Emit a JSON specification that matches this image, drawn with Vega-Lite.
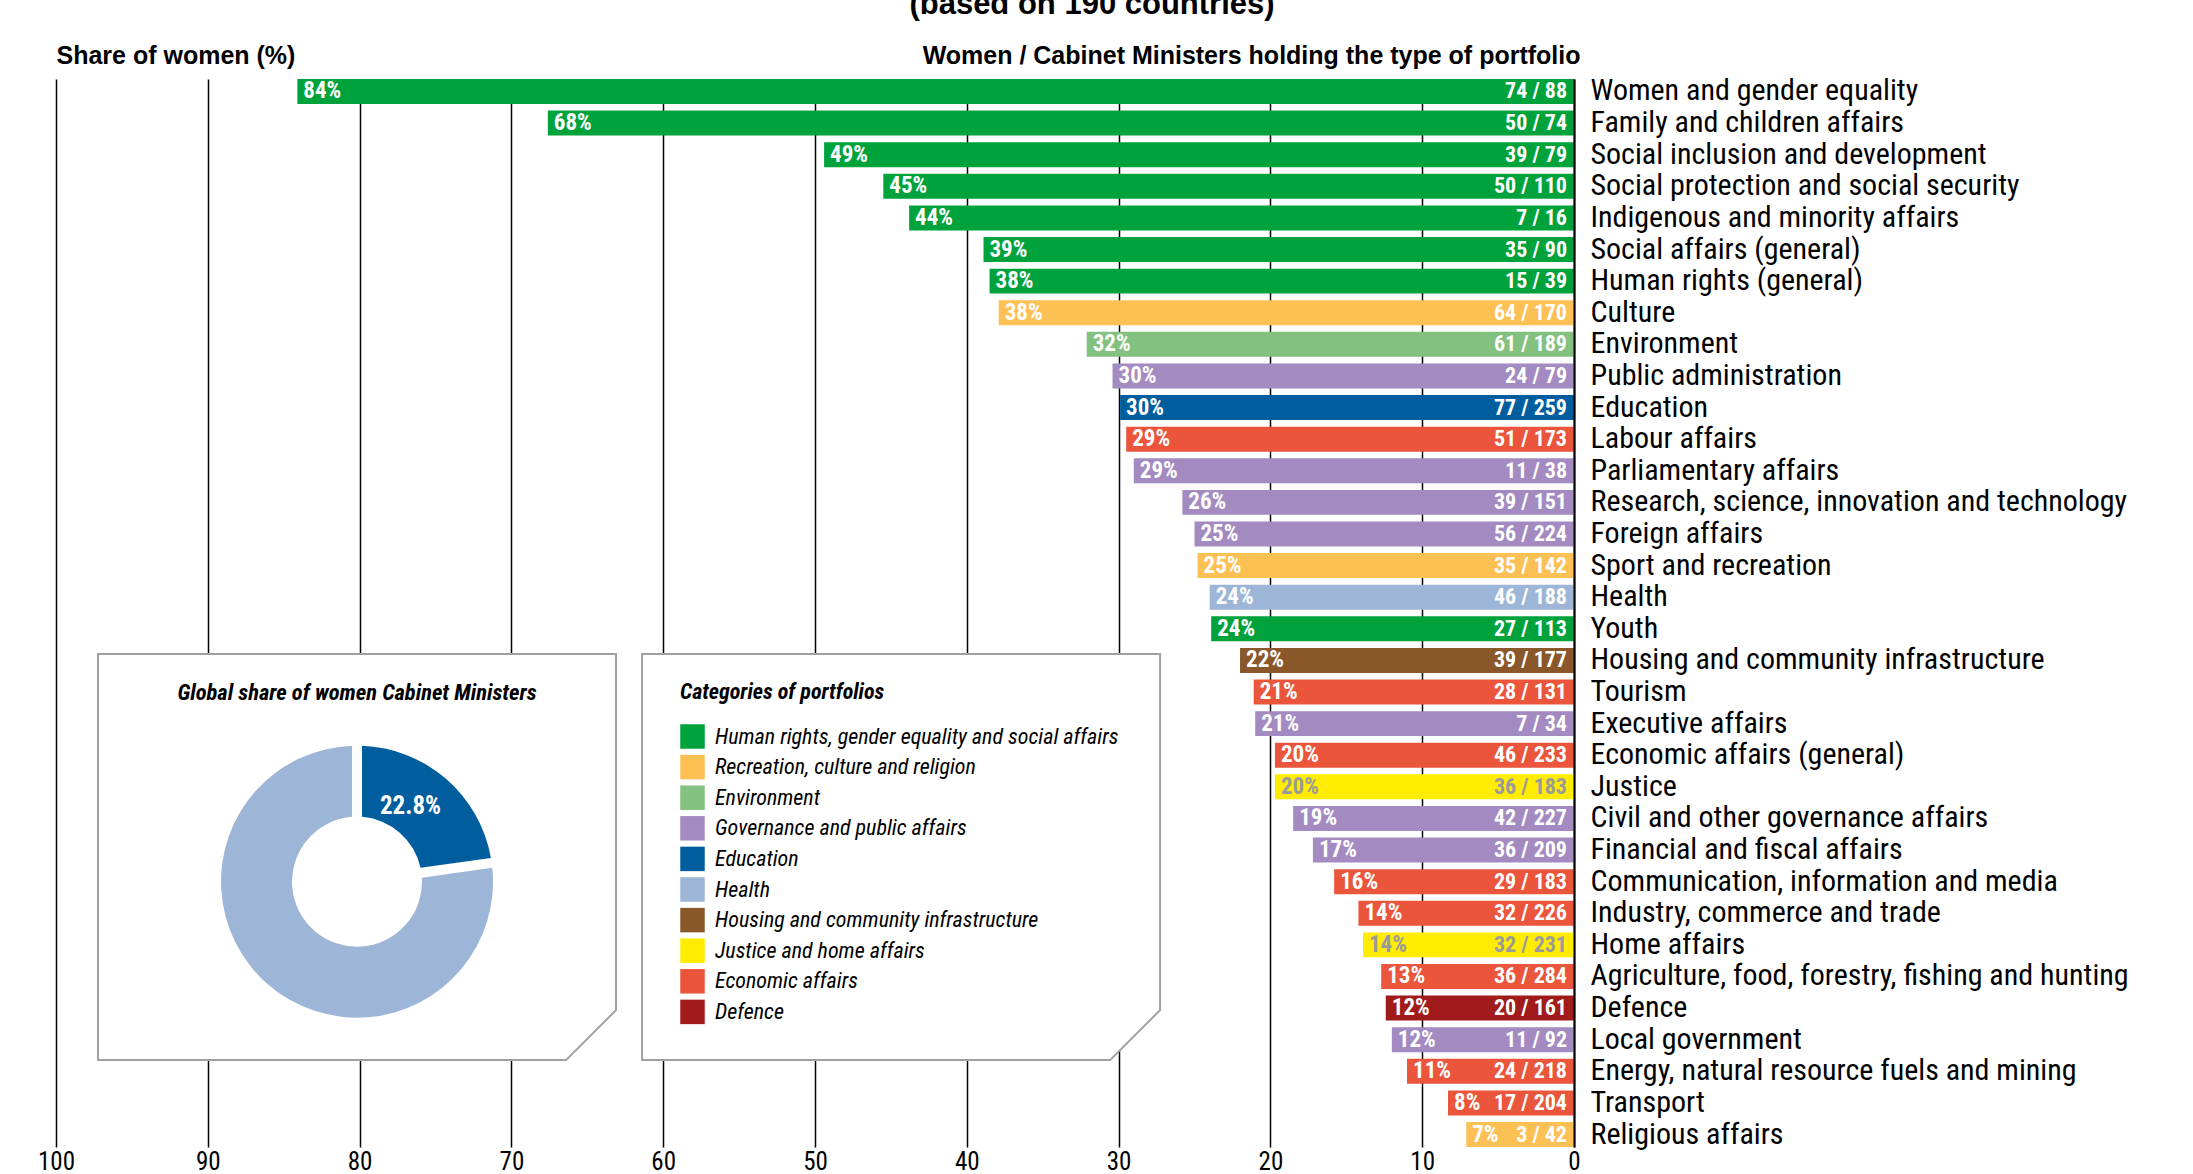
{
  "$schema": "https://vega.github.io/schema/vega-lite/v6.json",
  "autosize": "none",
  "width": 1518,
  "height": 1068,
  "padding": {"left": 56, "top": 79, "right": 619, "bottom": 27},
  "title": {
    "text": "(based on 190 countries)",
    "font": "Liberation Sans",
    "fontSize": 31,
    "fontWeight": "bold",
    "color": "black",
    "anchor": "middle",
    "frame": "group",
    "dx": 277,
    "dy": -22,
    "offset": 0
  },
  "datasets": {
    "portfolios": [
      {"portfolio": "Women and gender equality", "category": "Human rights, gender equality and social affairs", "share": 84.1, "pct": "84%", "ratio": "74 / 88"},
      {"portfolio": "Family and children affairs", "category": "Human rights, gender equality and social affairs", "share": 67.6, "pct": "68%", "ratio": "50 / 74"},
      {"portfolio": "Social inclusion and development", "category": "Human rights, gender equality and social affairs", "share": 49.4, "pct": "49%", "ratio": "39 / 79"},
      {"portfolio": "Social protection and social security", "category": "Human rights, gender equality and social affairs", "share": 45.5, "pct": "45%", "ratio": "50 / 110"},
      {"portfolio": "Indigenous and minority affairs", "category": "Human rights, gender equality and social affairs", "share": 43.8, "pct": "44%", "ratio": "7 / 16"},
      {"portfolio": "Social affairs (general)", "category": "Human rights, gender equality and social affairs", "share": 38.9, "pct": "39%", "ratio": "35 / 90"},
      {"portfolio": "Human rights (general)", "category": "Human rights, gender equality and social affairs", "share": 38.5, "pct": "38%", "ratio": "15 / 39"},
      {"portfolio": "Culture", "category": "Recreation, culture and religion", "share": 37.9, "pct": "38%", "ratio": "64 / 170"},
      {"portfolio": "Environment", "category": "Environment", "share": 32.1, "pct": "32%", "ratio": "61 / 189"},
      {"portfolio": "Public administration", "category": "Governance and public affairs", "share": 30.4, "pct": "30%", "ratio": "24 / 79"},
      {"portfolio": "Education", "category": "Education", "share": 29.9, "pct": "30%", "ratio": "77 / 259"},
      {"portfolio": "Labour affairs", "category": "Economic affairs", "share": 29.5, "pct": "29%", "ratio": "51 / 173"},
      {"portfolio": "Parliamentary affairs", "category": "Governance and public affairs", "share": 29.0, "pct": "29%", "ratio": "11 / 38"},
      {"portfolio": "Research, science, innovation and technology", "category": "Governance and public affairs", "share": 25.8, "pct": "26%", "ratio": "39 / 151"},
      {"portfolio": "Foreign affairs", "category": "Governance and public affairs", "share": 25.0, "pct": "25%", "ratio": "56 / 224"},
      {"portfolio": "Sport and recreation", "category": "Recreation, culture and religion", "share": 24.8, "pct": "25%", "ratio": "35 / 142"},
      {"portfolio": "Health", "category": "Health", "share": 24.0, "pct": "24%", "ratio": "46 / 188"},
      {"portfolio": "Youth", "category": "Human rights, gender equality and social affairs", "share": 23.9, "pct": "24%", "ratio": "27 / 113"},
      {"portfolio": "Housing and community infrastructure", "category": "Housing and community infrastructure", "share": 22.0, "pct": "22%", "ratio": "39 / 177"},
      {"portfolio": "Tourism", "category": "Economic affairs", "share": 21.1, "pct": "21%", "ratio": "28 / 131"},
      {"portfolio": "Executive affairs", "category": "Governance and public affairs", "share": 21.0, "pct": "21%", "ratio": "7 / 34"},
      {"portfolio": "Economic affairs (general)", "category": "Economic affairs", "share": 19.7, "pct": "20%", "ratio": "46 / 233"},
      {"portfolio": "Justice", "category": "Justice and home affairs", "share": 19.7, "pct": "20%", "ratio": "36 / 183"},
      {"portfolio": "Civil and other governance affairs", "category": "Governance and public affairs", "share": 18.5, "pct": "19%", "ratio": "42 / 227"},
      {"portfolio": "Financial and fiscal affairs", "category": "Governance and public affairs", "share": 17.2, "pct": "17%", "ratio": "36 / 209"},
      {"portfolio": "Communication, information and media", "category": "Economic affairs", "share": 15.8, "pct": "16%", "ratio": "29 / 183"},
      {"portfolio": "Industry, commerce and trade", "category": "Economic affairs", "share": 14.2, "pct": "14%", "ratio": "32 / 226"},
      {"portfolio": "Home affairs", "category": "Justice and home affairs", "share": 13.9, "pct": "14%", "ratio": "32 / 231"},
      {"portfolio": "Agriculture, food, forestry, fishing and hunting", "category": "Economic affairs", "share": 12.7, "pct": "13%", "ratio": "36 / 284"},
      {"portfolio": "Defence", "category": "Defence", "share": 12.4, "pct": "12%", "ratio": "20 / 161"},
      {"portfolio": "Local government", "category": "Governance and public affairs", "share": 12.0, "pct": "12%", "ratio": "11 / 92"},
      {"portfolio": "Energy, natural resource fuels and mining", "category": "Economic affairs", "share": 11.0, "pct": "11%", "ratio": "24 / 218"},
      {"portfolio": "Transport", "category": "Economic affairs", "share": 8.3, "pct": "8%", "ratio": "17 / 204"},
      {"portfolio": "Religious affairs", "category": "Recreation, culture and religion", "share": 7.1, "pct": "7%", "ratio": "3 / 42"}
    ],
    "donut": [
      {"group": "Women", "share": 22.8, "label": "22.8%"},
      {"group": "Men", "share": 77.2, "label": ""}
    ]
  },
  "data": {"name": "portfolios"},
  "layer": [
    {
      "mark": {"type": "bar"},
      "encoding": {
        "x": {
          "field": "share", "type": "quantitative",
          "scale": {"domain": [0, 100], "reverse": true, "nice": false, "zero": true},
          "axis": {
            "values": [0, 10, 20, 30, 40, 50, 60, 70, 80, 90, 100],
            "grid": true, "gridColor": "black", "gridWidth": 1.5, "gridOpacity": 1,
            "domain": false, "ticks": false,
            "labelFont": "Roboto Condensed, DejaVu Sans Condensed, Liberation Sans", "labelFontSize": 25, "labelColor": "black",
            "labelBaseline": "alphabetic", "labelPadding": 22, "labelFlush": false, "labelOverlap": false,
            "title": "Share of women (%)",
            "titleFont": "Liberation Sans", "titleFontSize": 25, "titleFontWeight": "bold", "titleColor": "black",
            "titleAngle": 0, "titleAlign": "left", "titleBaseline": "alphabetic",
            "titleX": 0, "titleY": -1084
          }
        },
        "y": {
          "field": "portfolio", "type": "nominal",
          "scale": {
            "domain": ["Women and gender equality", "Family and children affairs", "Social inclusion and development", "Social protection and social security", "Indigenous and minority affairs", "Social affairs (general)", "Human rights (general)", "Culture", "Environment", "Public administration", "Education", "Labour affairs", "Parliamentary affairs", "Research, science, innovation and technology", "Foreign affairs", "Sport and recreation", "Health", "Youth", "Housing and community infrastructure", "Tourism", "Executive affairs", "Economic affairs (general)", "Justice", "Civil and other governance affairs", "Financial and fiscal affairs", "Communication, information and media", "Industry, commerce and trade", "Home affairs", "Agriculture, food, forestry, fishing and hunting", "Defence", "Local government", "Energy, natural resource fuels and mining", "Transport", "Religious affairs"],
            "paddingInner": 0.21, "paddingOuter": 0
          },
          "axis": {
            "orient": "right", "ticks": false,
            "domain": true, "domainColor": "black", "domainWidth": 2, "zindex": 1,
            "labelFont": "Roboto Condensed, DejaVu Sans Condensed, Liberation Sans", "labelFontSize": 30, "labelColor": "black",
            "labelPadding": 16, "labelLimit": 0,
            "title": "Women / Cabinet Ministers holding the type of portfolio",
            "titleFont": "Liberation Sans", "titleFontSize": 25, "titleFontWeight": "bold", "titleColor": "black",
            "titleAngle": 0, "titleAlign": "right", "titleBaseline": "alphabetic",
            "titleX": 6, "titleY": -16
          }
        },
        "color": {
          "field": "category", "type": "nominal",
          "scale": {
            "domain": ["Human rights, gender equality and social affairs", "Recreation, culture and religion", "Environment", "Governance and public affairs", "Education", "Health", "Housing and community infrastructure", "Justice and home affairs", "Economic affairs", "Defence"],
            "range": ["#00A23C", "#FDC055", "#82C17F", "#A38AC1", "#005E9E", "#9DB5D7", "#8A572A", "#FFEC00", "#EA553B", "#A21B1B"]
          },
          "legend": {
            "orient": "none", "legendX": 624, "legendY": 603, "direction": "vertical", "padding": 0,
            "title": "Categories of portfolios",
            "titleFont": "Roboto Condensed, DejaVu Sans Condensed, Liberation Sans", "titleFontSize": 22, "titleFontWeight": "bold", "titleFontStyle": "italic",
            "titleColor": "black", "titlePadding": 20, "titleLimit": 600,
            "labelFont": "Roboto Condensed, DejaVu Sans Condensed, Liberation Sans", "labelFontSize": 22, "labelFontStyle": "italic", "labelColor": "black",
            "labelLimit": 600, "labelOffset": 10,
            "symbolType": "square", "symbolSize": 600, "symbolStrokeWidth": 0, "symbolOpacity": 1,
            "rowPadding": 5.6
          }
        }
      }
    },
    {
      "mark": {"type": "text", "align": "left", "baseline": "middle", "dx": 6, "font": "Roboto Condensed, DejaVu Sans Condensed, Liberation Sans", "fontWeight": "bold", "fontSize": 23},
      "encoding": {
        "x": {"field": "share", "type": "quantitative"},
        "y": {"field": "portfolio", "type": "nominal"},
        "text": {"field": "pct"},
        "color": {"condition": {"test": "datum.category === 'Justice and home affairs'", "value": "#9a9a9a"}, "value": "white"}
      }
    },
    {
      "mark": {"type": "text", "align": "right", "baseline": "middle", "dx": -7, "font": "Roboto Condensed, DejaVu Sans Condensed, Liberation Sans", "fontWeight": "bold", "fontSize": 22},
      "encoding": {
        "x": {"datum": 0},
        "y": {"field": "portfolio", "type": "nominal"},
        "text": {"field": "ratio"},
        "color": {"condition": {"test": "datum.category === 'Justice and home affairs'", "value": "#9a9a9a"}, "value": "white"}
      }
    },
    {
      "data": {"values": [{}]},
      "mark": {"type": "point", "shape": "M-1,-0.784L1,-0.784L1,0.591L0.807,0.784L-1,0.784Z", "size": 268324, "filled": true, "fill": "white", "stroke": "#a0a0a0", "strokeWidth": 2, "opacity": 1, "fillOpacity": 1, "strokeOpacity": 1, "yOffset": 7},
      "encoding": {
        "x": {"datum": 80.17},
        "y": {"datum": "Financial and fiscal affairs"}
      }
    },
    {
      "data": {"values": [{}]},
      "mark": {"type": "point", "shape": "M-1,-0.784L1,-0.784L1,0.591L0.807,0.784L-1,0.784Z", "size": 268324, "filled": true, "fill": "white", "stroke": "#a0a0a0", "strokeWidth": 2, "opacity": 1, "fillOpacity": 1, "strokeOpacity": 1, "yOffset": 7},
      "encoding": {
        "x": {"datum": 44.33},
        "y": {"datum": "Financial and fiscal affairs"}
      }
    },
    {
      "data": {"values": [{"title": "Global share of women Cabinet Ministers"}]},
      "mark": {"type": "text", "align": "center", "baseline": "middle", "font": "Roboto Condensed, DejaVu Sans Condensed, Liberation Sans", "fontWeight": "bold", "fontStyle": "italic", "fontSize": 22.5, "color": "black", "yOffset": 1},
      "encoding": {
        "x": {"datum": 80.17},
        "y": {"datum": "Tourism"},
        "text": {"field": "title"}
      }
    },
    {
      "data": {"name": "donut"},
      "mark": {"type": "arc", "innerRadius": 65, "outerRadius": 136, "padAngle": 0.066},
      "encoding": {
        "theta": {"field": "share", "type": "quantitative", "stack": true},
        "order": {"field": "share", "sort": "ascending"},
        "x": {"datum": 80.17},
        "y": {"datum": "Communication, information and media"},
        "color": {"condition": {"test": "datum.group === 'Women'", "value": "#005E9E"}, "value": "#9DB5D7"}
      }
    },
    {
      "data": {"name": "donut"},
      "mark": {"type": "text", "radius": 89, "dx": -5, "dy": -9, "align": "center", "baseline": "middle", "font": "Roboto Condensed, DejaVu Sans Condensed, Liberation Sans", "fontWeight": "bold", "fontSize": 25, "color": "white"},
      "encoding": {
        "theta": {"field": "share", "type": "quantitative", "stack": true},
        "order": {"field": "share", "sort": "ascending"},
        "x": {"datum": 80.17},
        "y": {"datum": "Communication, information and media"},
        "text": {"field": "label"}
      }
    }
  ],
  "config": {
    "view": {"stroke": null},
    "font": "Roboto Condensed, DejaVu Sans Condensed, Liberation Sans",
    "background": "white"
  }
}
